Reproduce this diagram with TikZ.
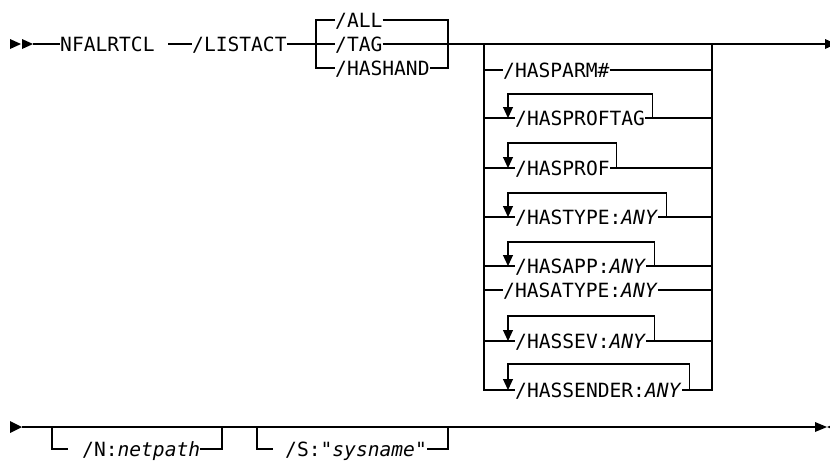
\documentclass[tikz,border=0pt]{standalone}
\usepackage{fontspec}
\newfontfamily\railfont{DejaVu Sans Mono}[ItalicFont={DejaVu Sans Mono Oblique}]
\usepackage{tikz}
\tikzset{every picture/.style={x=1pt,y=-1pt}}
\usetikzlibrary{arrows.meta}
\tikzset{
  kw/.style={font=\railfont\fontsize{19.6}{20}\selectfont, inner sep=0pt,
             text height=14.3pt, text depth=0pt, anchor=west},
  track/.style={line width=1.1pt},
  backarrow/.style={track, -{Triangle[width=10pt,length=11pt]}},
}

\begin{document}
\begin{tikzpicture}
    \useasboundingbox (0,0) rectangle (830,463);
    % first line
    \fill (10,39) -- (21,44) -- (10,49) -- cycle;
    \fill (22,39) -- (33,44) -- (22,49) -- cycle;
    \coordinate (start1) at (33,44);
    \node[kw] (nfalrtcl) at (60,44) {NFALRTCL};
    \coordinate (dash1) at (168,44);
    \node[kw] (listact) at (192,44) {/LISTACT};
    \draw[track] (start1) -- (nfalrtcl.west);
    \draw[track] (dash1) -- (listact.west);
    % ALL / TAG / HASHAND
    \coordinate (b1l) at (316,44);
    \coordinate (b1r) at (448,44);
    \node[kw] (all) at (335,20) {/ALL};
    \node[kw] (tag) at (335,44) {/TAG};
    \node[kw] (hashand) at (335,68) {/HASHAND};
    \draw[track] (listact.east) -- (b1l) -- (tag.west);
    \draw[track] (all.west) -| (b1l) |- (hashand.west);
    \draw[track] (all.east) -| (b1r) |- (hashand.east);
    % filters
    \coordinate (b2l) at (484,44);
    \coordinate (b2r) at (712,44);
    \coordinate (end1) at (825,44);
    \draw[track] (tag.east) -- (b1r) -- (b2l) -- (b2r) -- (end1);
    \fill (end1) ++(0,-5) -- ++(11,5) -- ++(-11,5) -- cycle;
    \node[kw] (hasparm) at (503,70) {/HASPARM\#};
    \node[kw] (hasproftag) at (515,118) {/HASPROFTAG};
    \node[kw] (hasprof) at (515,168) {/HASPROF};
    \node[kw] (hastype) at (515,217) {/HASTYPE:\textit{ANY}};
    \node[kw] (hasapp) at (515,266) {/HASAPP:\textit{ANY}};
    \node[kw] (hasatype) at (503,290) {/HASATYPE:\textit{ANY}};
    \node[kw] (hassev) at (515,341) {/HASSEV:\textit{ANY}};
    \node[kw] (hassender) at (515,390) {/HASSENDER:\textit{ANY}};
    \draw[track] (b2l) |- (hassender.west);
    \draw[track] (b2r) |- (hassender.east);
    \draw[track] (b2l |- hasparm) -- (hasparm.west);
    \draw[track] (hasparm.east) -- (b2r |- hasparm);
    \draw[track] (b2l |- hasproftag) -- (hasproftag.west);
    \draw[track] (hasproftag.east) -- (b2r |- hasproftag);
    \draw[track] (b2l |- hasprof) -- (hasprof.west);
    \draw[track] (hasprof.east) -- (b2r |- hasprof);
    \draw[track] (b2l |- hastype) -- (hastype.west);
    \draw[track] (hastype.east) -- (b2r |- hastype);
    \draw[track] (b2l |- hasapp) -- (hasapp.west);
    \draw[track] (hasapp.east) -- (b2r |- hasapp);
    \draw[track] (b2l |- hasatype) -- (hasatype.west);
    \draw[track] (hasatype.east) -- (b2r |- hasatype);
    \draw[track] (b2l |- hassev) -- (hassev.west);
    \draw[track] (hassev.east) -- (b2r |- hassev);
    % repeat loops
    \draw[backarrow] ([xshift=7pt]hasproftag.east) -- ++(0,-24) -| ([xshift=-7pt]hasproftag.west);
    \draw[backarrow] ([xshift=7pt]hasprof.east) -- ++(0,-25) -| ([xshift=-7pt]hasprof.west);
    \draw[backarrow] ([xshift=8pt]hastype.east) -- ++(0,-24) -| ([xshift=-7pt]hastype.west);
    \draw[backarrow] ([xshift=8pt]hasapp.east) -- ++(0,-24) -| ([xshift=-7pt]hasapp.west);
    \draw[backarrow] ([xshift=8pt]hassev.east) -- ++(0,-25) -| ([xshift=-7pt]hassev.west);
    \draw[backarrow] ([xshift=8pt]hassender.east) -- ++(0,-26) -| ([xshift=-7pt]hassender.west);
    % second line
    \coordinate (start2) at (22,427);
    \coordinate (end2) at (815,427);
    \fill (10,421) -- (start2) -- (10,433) -- cycle;
    \draw[track] (start2) -- (end2);
    \fill (end2) ++(0,-5) -- ++(12,5) -- ++(-12,5) -- cycle;
    \fill (839,422) -- (827,427) -- (839,432) -- cycle;
    \coordinate (opt1l) at (52,427);
    \coordinate (opt1r) at (222,427);
    \coordinate (opt2l) at (257,427);
    \coordinate (opt2r) at (448,427);
    \node[kw] (netpath) at (82,449) {/N:\textit{netpath}};
    \node[kw] (sysname) at (285,449) {/S:"\textit{sysname}"};
    \draw[track] (opt1l) |- ([xshift=-14pt]netpath.west);
    \draw[track] (netpath.east) -| (opt1r);
    \draw[track] (opt2l) |- ([xshift=-12pt]sysname.west);
    \draw[track] (sysname.east) -| (opt2r);
\end{tikzpicture}
\end{document}
